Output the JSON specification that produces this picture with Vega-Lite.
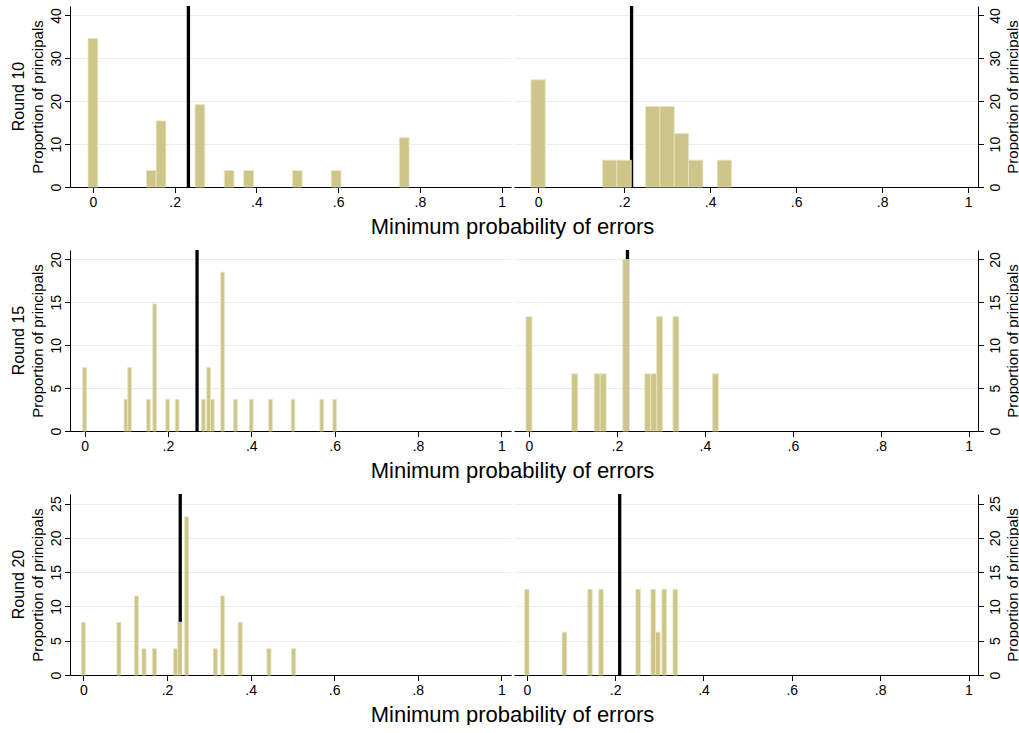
{
  "$schema": "https://vega.github.io/schema/vega-lite/v6.json",
  "padding": {"left": 10, "top": 4, "right": 0, "bottom": 0},
  "datasets": {
    "means": [
      {"round": "Round 10", "side": "L", "mean": 0.2337},
      {"round": "Round 10", "side": "R", "mean": 0.2174},
      {"round": "Round 15", "side": "L", "mean": 0.2698},
      {"round": "Round 15", "side": "R", "mean": 0.224},
      {"round": "Round 20", "side": "L", "mean": 0.2317},
      {"round": "Round 20", "side": "R", "mean": 0.2103}
    ],
    "bars": [
      {"round": "Round 10", "side": "L", "lo": -0.0119, "hi": 0.0119, "pct": 34.6},
      {"round": "Round 10", "side": "L", "lo": 0.131, "hi": 0.1548, "pct": 3.85},
      {"round": "Round 10", "side": "L", "lo": 0.1548, "hi": 0.1786, "pct": 15.4},
      {"round": "Round 10", "side": "L", "lo": 0.25, "hi": 0.2738, "pct": 19.2},
      {"round": "Round 10", "side": "L", "lo": 0.3214, "hi": 0.3452, "pct": 3.85},
      {"round": "Round 10", "side": "L", "lo": 0.369, "hi": 0.3929, "pct": 3.85},
      {"round": "Round 10", "side": "L", "lo": 0.4881, "hi": 0.5119, "pct": 3.85},
      {"round": "Round 10", "side": "L", "lo": 0.5833, "hi": 0.6071, "pct": 3.85},
      {"round": "Round 10", "side": "L", "lo": 0.75, "hi": 0.7738, "pct": 11.5},
      {"round": "Round 10", "side": "R", "lo": -0.0167, "hi": 0.0167, "pct": 25},
      {"round": "Round 10", "side": "R", "lo": 0.15, "hi": 0.1833, "pct": 6.25},
      {"round": "Round 10", "side": "R", "lo": 0.1833, "hi": 0.2167, "pct": 6.25},
      {"round": "Round 10", "side": "R", "lo": 0.25, "hi": 0.2833, "pct": 18.75},
      {"round": "Round 10", "side": "R", "lo": 0.2833, "hi": 0.3167, "pct": 18.75},
      {"round": "Round 10", "side": "R", "lo": 0.3167, "hi": 0.35, "pct": 12.5},
      {"round": "Round 10", "side": "R", "lo": 0.35, "hi": 0.3833, "pct": 6.25},
      {"round": "Round 10", "side": "R", "lo": 0.4167, "hi": 0.45, "pct": 6.25},
      {"round": "Round 15", "side": "L", "lo": -0.0045, "hi": 0.0045, "pct": 7.41},
      {"round": "Round 15", "side": "L", "lo": 0.0945, "hi": 0.1035, "pct": 3.7},
      {"round": "Round 15", "side": "L", "lo": 0.1035, "hi": 0.1125, "pct": 7.41},
      {"round": "Round 15", "side": "L", "lo": 0.1485, "hi": 0.1575, "pct": 3.7},
      {"round": "Round 15", "side": "L", "lo": 0.1635, "hi": 0.1725, "pct": 14.81},
      {"round": "Round 15", "side": "L", "lo": 0.1945, "hi": 0.2035, "pct": 3.7},
      {"round": "Round 15", "side": "L", "lo": 0.2175, "hi": 0.2265, "pct": 3.7},
      {"round": "Round 15", "side": "L", "lo": 0.2805, "hi": 0.2895, "pct": 3.7},
      {"round": "Round 15", "side": "L", "lo": 0.293, "hi": 0.302, "pct": 7.41},
      {"round": "Round 15", "side": "L", "lo": 0.302, "hi": 0.311, "pct": 3.7},
      {"round": "Round 15", "side": "L", "lo": 0.3265, "hi": 0.3355, "pct": 18.52},
      {"round": "Round 15", "side": "L", "lo": 0.3575, "hi": 0.3665, "pct": 3.7},
      {"round": "Round 15", "side": "L", "lo": 0.3955, "hi": 0.4045, "pct": 3.7},
      {"round": "Round 15", "side": "L", "lo": 0.4415, "hi": 0.4505, "pct": 3.7},
      {"round": "Round 15", "side": "L", "lo": 0.4955, "hi": 0.5045, "pct": 3.7},
      {"round": "Round 15", "side": "L", "lo": 0.5645, "hi": 0.5735, "pct": 3.7},
      {"round": "Round 15", "side": "L", "lo": 0.5955, "hi": 0.6045, "pct": 3.7},
      {"round": "Round 15", "side": "R", "lo": -0.0068, "hi": 0.0068, "pct": 13.33},
      {"round": "Round 15", "side": "R", "lo": 0.0972, "hi": 0.1108, "pct": 6.67},
      {"round": "Round 15", "side": "R", "lo": 0.1485, "hi": 0.162, "pct": 6.67},
      {"round": "Round 15", "side": "R", "lo": 0.162, "hi": 0.1755, "pct": 6.67},
      {"round": "Round 15", "side": "R", "lo": 0.2133, "hi": 0.2268, "pct": 20},
      {"round": "Round 15", "side": "R", "lo": 0.2633, "hi": 0.2768, "pct": 6.67},
      {"round": "Round 15", "side": "R", "lo": 0.2768, "hi": 0.2903, "pct": 6.67},
      {"round": "Round 15", "side": "R", "lo": 0.2903, "hi": 0.3038, "pct": 13.33},
      {"round": "Round 15", "side": "R", "lo": 0.3273, "hi": 0.3408, "pct": 13.33},
      {"round": "Round 15", "side": "R", "lo": 0.4173, "hi": 0.4308, "pct": 6.67},
      {"round": "Round 20", "side": "L", "lo": -0.0049, "hi": 0.0049, "pct": 7.69},
      {"round": "Round 20", "side": "L", "lo": 0.0801, "hi": 0.0899, "pct": 7.69},
      {"round": "Round 20", "side": "L", "lo": 0.1221, "hi": 0.1319, "pct": 11.54},
      {"round": "Round 20", "side": "L", "lo": 0.1401, "hi": 0.1499, "pct": 3.85},
      {"round": "Round 20", "side": "L", "lo": 0.1651, "hi": 0.1749, "pct": 3.85},
      {"round": "Round 20", "side": "L", "lo": 0.2156, "hi": 0.2254, "pct": 3.85},
      {"round": "Round 20", "side": "L", "lo": 0.2254, "hi": 0.2352, "pct": 7.69},
      {"round": "Round 20", "side": "L", "lo": 0.2421, "hi": 0.2519, "pct": 23.08},
      {"round": "Round 20", "side": "L", "lo": 0.3106, "hi": 0.3204, "pct": 3.85},
      {"round": "Round 20", "side": "L", "lo": 0.3281, "hi": 0.3379, "pct": 11.54},
      {"round": "Round 20", "side": "L", "lo": 0.3701, "hi": 0.3799, "pct": 7.69},
      {"round": "Round 20", "side": "L", "lo": 0.4391, "hi": 0.4489, "pct": 3.85},
      {"round": "Round 20", "side": "L", "lo": 0.4981, "hi": 0.5079, "pct": 3.85},
      {"round": "Round 20", "side": "R", "lo": -0.0053, "hi": 0.0053, "pct": 12.5},
      {"round": "Round 20", "side": "R", "lo": 0.0798, "hi": 0.0903, "pct": 6.25},
      {"round": "Round 20", "side": "R", "lo": 0.1378, "hi": 0.1483, "pct": 12.5},
      {"round": "Round 20", "side": "R", "lo": 0.1628, "hi": 0.1733, "pct": 12.5},
      {"round": "Round 20", "side": "R", "lo": 0.2468, "hi": 0.2573, "pct": 12.5},
      {"round": "Round 20", "side": "R", "lo": 0.2808, "hi": 0.2913, "pct": 12.5},
      {"round": "Round 20", "side": "R", "lo": 0.2913, "hi": 0.3018, "pct": 6.25},
      {"round": "Round 20", "side": "R", "lo": 0.3058, "hi": 0.3163, "pct": 12.5},
      {"round": "Round 20", "side": "R", "lo": 0.3308, "hi": 0.3413, "pct": 12.5}
    ]
  },
  "config": {
    "font": "Liberation Sans",
    "view": {"stroke": null},
    "axis": {
      "labelFont": "Liberation Sans", "titleFont": "Liberation Sans",
      "labelFontSize": 14, "labelColor": "#000", "titleColor": "#000",
      "titleFontWeight": "normal", "domainColor": "#000", "domainWidth": 1,
      "tickColor": "#000", "tickSize": 5.5, "tickWidth": 1,
      "gridColor": "#E6EFEF", "gridWidth": 1
    }
  },
  "spacing": 11,
  "vconcat": [
    {
      "bounds": "flush", "spacing": 3,
      "hconcat": [
        {
          "width": 441, "height": 181,
          "title": {"text": "Round 10", "orient": "left", "frame": "group", "anchor": "middle", "fontSize": 16, "fontWeight": "normal", "offset": 4, "color": "#000"},
          "layer": [
            {"data": {"name": "means"}, "transform": [{"filter": "datum.round == 'Round 10' && datum.side == 'L'"}],
             "mark": {"type": "rule", "color": "#000", "strokeWidth": 3.3},
             "encoding": {"x": {"field": "mean", "type": "quantitative", "scale": {"domain": [-0.056, 1.023], "nice": false, "zero": false},
               "axis": {"title": "Minimum probability of errors", "titleX": 442, "titleY": 46, "titleBaseline": "alphabetic", "titleAlign": "center", "titleFontSize": 22, "values": [0, 0.2, 0.4, 0.6, 0.8, 1], "labelExpr": "datum.value == 0 ? '0' : datum.value == 1 ? '1' : replace(format(datum.value, '.1f'), '0.', '.')", "grid": false, "labelFlush": false, "labelPadding": 3}}}},
            {"data": {"name": "bars"}, "transform": [{"filter": "datum.round == 'Round 10' && datum.side == 'L'"}],
             "mark": {"type": "rect", "color": "#CEC688", "stroke": "#E8E4C4", "strokeWidth": 0.8},
             "encoding": {
               "x": {"field": "lo", "type": "quantitative", "scale": {"domain": [-0.056, 1.023], "nice": false, "zero": false},
                 "axis": {"title": "Minimum probability of errors", "titleX": 442, "titleY": 46, "titleBaseline": "alphabetic", "titleAlign": "center", "titleFontSize": 22, "values": [0, 0.2, 0.4, 0.6, 0.8, 1], "labelExpr": "datum.value == 0 ? '0' : datum.value == 1 ? '1' : replace(format(datum.value, '.1f'), '0.', '.')", "grid": false, "labelFlush": false, "labelPadding": 3}},
               "x2": {"field": "hi"},
               "y": {"field": "pct", "type": "quantitative", "scale": {"domain": [0, 42.2], "nice": false},
                 "axis": {"title": "Proportion of principals", "orient": "left", "values": [0, 10, 20, 30, 40], "grid": true, "labelAngle": -90, "labelAlign": "center", "labelBaseline": "bottom", "labelPadding": 1, "titleFontSize": 15, "titlePadding": 4}}
             }}
          ]
        },
        {
          "width": 464, "height": 181,
          "layer": [
            {"data": {"name": "means"}, "transform": [{"filter": "datum.round == 'Round 10' && datum.side == 'R'"}],
             "mark": {"type": "rule", "color": "#000", "strokeWidth": 3.3},
             "encoding": {"x": {"field": "mean", "type": "quantitative", "scale": {"domain": [-0.056, 1.023], "nice": false, "zero": false},
               "axis": {"title": null, "values": [0, 0.2, 0.4, 0.6, 0.8, 1], "labelExpr": "datum.value == 0 ? '0' : datum.value == 1 ? '1' : replace(format(datum.value, '.1f'), '0.', '.')", "grid": false, "labelFlush": false, "labelPadding": 3}}}},
            {"data": {"name": "bars"}, "transform": [{"filter": "datum.round == 'Round 10' && datum.side == 'R'"}],
             "mark": {"type": "rect", "color": "#CEC688", "stroke": "#E8E4C4", "strokeWidth": 0.8},
             "encoding": {
               "x": {"field": "lo", "type": "quantitative", "scale": {"domain": [-0.056, 1.023], "nice": false, "zero": false},
                 "axis": {"title": null, "values": [0, 0.2, 0.4, 0.6, 0.8, 1], "labelExpr": "datum.value == 0 ? '0' : datum.value == 1 ? '1' : replace(format(datum.value, '.1f'), '0.', '.')", "grid": false, "labelFlush": false, "labelPadding": 3}},
               "x2": {"field": "hi"},
               "y": {"field": "pct", "type": "quantitative", "scale": {"domain": [0, 42.2], "nice": false},
                 "axis": {"title": "Proportion of principals", "orient": "right", "values": [0, 10, 20, 30, 40], "grid": true, "labelAngle": -90, "labelAlign": "center", "labelBaseline": "top", "labelPadding": 5, "titleFontSize": 15, "titleAngle": 270, "titleBaseline": "top", "titlePadding": 3}}
             }}
          ]
        }
      ]
    },
    {
      "bounds": "flush", "spacing": 3,
      "hconcat": [
        {
          "width": 441, "height": 181,
          "title": {"text": "Round 15", "orient": "left", "frame": "group", "anchor": "middle", "fontSize": 16, "fontWeight": "normal", "offset": 4, "color": "#000"},
          "layer": [
            {"data": {"name": "means"}, "transform": [{"filter": "datum.round == 'Round 15' && datum.side == 'L'"}],
             "mark": {"type": "rule", "color": "#000", "strokeWidth": 3.3},
             "encoding": {"x": {"field": "mean", "type": "quantitative", "scale": {"domain": [-0.035, 1.023], "nice": false, "zero": false},
               "axis": {"title": "Minimum probability of errors", "titleX": 442, "titleY": 46, "titleBaseline": "alphabetic", "titleAlign": "center", "titleFontSize": 22, "values": [0, 0.2, 0.4, 0.6, 0.8, 1], "labelExpr": "datum.value == 0 ? '0' : datum.value == 1 ? '1' : replace(format(datum.value, '.1f'), '0.', '.')", "grid": false, "labelFlush": false, "labelPadding": 3}}}},
            {"data": {"name": "bars"}, "transform": [{"filter": "datum.round == 'Round 15' && datum.side == 'L'"}],
             "mark": {"type": "rect", "color": "#CEC688", "stroke": "#E8E4C4", "strokeWidth": 0.8},
             "encoding": {
               "x": {"field": "lo", "type": "quantitative", "scale": {"domain": [-0.035, 1.023], "nice": false, "zero": false},
                 "axis": {"title": "Minimum probability of errors", "titleX": 442, "titleY": 46, "titleBaseline": "alphabetic", "titleAlign": "center", "titleFontSize": 22, "values": [0, 0.2, 0.4, 0.6, 0.8, 1], "labelExpr": "datum.value == 0 ? '0' : datum.value == 1 ? '1' : replace(format(datum.value, '.1f'), '0.', '.')", "grid": false, "labelFlush": false, "labelPadding": 3}},
               "x2": {"field": "hi"},
               "y": {"field": "pct", "type": "quantitative", "scale": {"domain": [0, 21.1], "nice": false},
                 "axis": {"title": "Proportion of principals", "orient": "left", "values": [0, 5, 10, 15, 20], "grid": true, "labelAngle": -90, "labelAlign": "center", "labelBaseline": "bottom", "labelPadding": 1, "titleFontSize": 15, "titlePadding": 4}}
             }}
          ]
        },
        {
          "width": 464, "height": 181,
          "layer": [
            {"data": {"name": "means"}, "transform": [{"filter": "datum.round == 'Round 15' && datum.side == 'R'"}],
             "mark": {"type": "rule", "color": "#000", "strokeWidth": 3.3},
             "encoding": {"x": {"field": "mean", "type": "quantitative", "scale": {"domain": [-0.034, 1.021], "nice": false, "zero": false},
               "axis": {"title": null, "values": [0, 0.2, 0.4, 0.6, 0.8, 1], "labelExpr": "datum.value == 0 ? '0' : datum.value == 1 ? '1' : replace(format(datum.value, '.1f'), '0.', '.')", "grid": false, "labelFlush": false, "labelPadding": 3}}}},
            {"data": {"name": "bars"}, "transform": [{"filter": "datum.round == 'Round 15' && datum.side == 'R'"}],
             "mark": {"type": "rect", "color": "#CEC688", "stroke": "#E8E4C4", "strokeWidth": 0.8},
             "encoding": {
               "x": {"field": "lo", "type": "quantitative", "scale": {"domain": [-0.034, 1.021], "nice": false, "zero": false},
                 "axis": {"title": null, "values": [0, 0.2, 0.4, 0.6, 0.8, 1], "labelExpr": "datum.value == 0 ? '0' : datum.value == 1 ? '1' : replace(format(datum.value, '.1f'), '0.', '.')", "grid": false, "labelFlush": false, "labelPadding": 3}},
               "x2": {"field": "hi"},
               "y": {"field": "pct", "type": "quantitative", "scale": {"domain": [0, 21.1], "nice": false},
                 "axis": {"title": "Proportion of principals", "orient": "right", "values": [0, 5, 10, 15, 20], "grid": true, "labelAngle": -90, "labelAlign": "center", "labelBaseline": "top", "labelPadding": 5, "titleFontSize": 15, "titleAngle": 270, "titleBaseline": "top", "titlePadding": 3}}
             }}
          ]
        }
      ]
    },
    {
      "bounds": "flush", "spacing": 3,
      "hconcat": [
        {
          "width": 441, "height": 181,
          "title": {"text": "Round 20", "orient": "left", "frame": "group", "anchor": "middle", "fontSize": 16, "fontWeight": "normal", "offset": 4, "color": "#000"},
          "layer": [
            {"data": {"name": "means"}, "transform": [{"filter": "datum.round == 'Round 20' && datum.side == 'L'"}],
             "mark": {"type": "rule", "color": "#000", "strokeWidth": 3.3},
             "encoding": {"x": {"field": "mean", "type": "quantitative", "scale": {"domain": [-0.032, 1.023], "nice": false, "zero": false},
               "axis": {"title": "Minimum probability of errors", "titleX": 442, "titleY": 46, "titleBaseline": "alphabetic", "titleAlign": "center", "titleFontSize": 22, "values": [0, 0.2, 0.4, 0.6, 0.8, 1], "labelExpr": "datum.value == 0 ? '0' : datum.value == 1 ? '1' : replace(format(datum.value, '.1f'), '0.', '.')", "grid": false, "labelFlush": false, "labelPadding": 3}}}},
            {"data": {"name": "bars"}, "transform": [{"filter": "datum.round == 'Round 20' && datum.side == 'L'"}],
             "mark": {"type": "rect", "color": "#CEC688", "stroke": "#E8E4C4", "strokeWidth": 0.8},
             "encoding": {
               "x": {"field": "lo", "type": "quantitative", "scale": {"domain": [-0.032, 1.023], "nice": false, "zero": false},
                 "axis": {"title": "Minimum probability of errors", "titleX": 442, "titleY": 46, "titleBaseline": "alphabetic", "titleAlign": "center", "titleFontSize": 22, "values": [0, 0.2, 0.4, 0.6, 0.8, 1], "labelExpr": "datum.value == 0 ? '0' : datum.value == 1 ? '1' : replace(format(datum.value, '.1f'), '0.', '.')", "grid": false, "labelFlush": false, "labelPadding": 3}},
               "x2": {"field": "hi"},
               "y": {"field": "pct", "type": "quantitative", "scale": {"domain": [0, 26.4], "nice": false},
                 "axis": {"title": "Proportion of principals", "orient": "left", "values": [0, 5, 10, 15, 20, 25], "grid": true, "labelAngle": -90, "labelAlign": "center", "labelBaseline": "bottom", "labelPadding": 1, "titleFontSize": 15, "titlePadding": 4}}
             }}
          ]
        },
        {
          "width": 464, "height": 181,
          "layer": [
            {"data": {"name": "means"}, "transform": [{"filter": "datum.round == 'Round 20' && datum.side == 'R'"}],
             "mark": {"type": "rule", "color": "#000", "strokeWidth": 3.3},
             "encoding": {"x": {"field": "mean", "type": "quantitative", "scale": {"domain": [-0.029, 1.0215], "nice": false, "zero": false},
               "axis": {"title": null, "values": [0, 0.2, 0.4, 0.6, 0.8, 1], "labelExpr": "datum.value == 0 ? '0' : datum.value == 1 ? '1' : replace(format(datum.value, '.1f'), '0.', '.')", "grid": false, "labelFlush": false, "labelPadding": 3}}}},
            {"data": {"name": "bars"}, "transform": [{"filter": "datum.round == 'Round 20' && datum.side == 'R'"}],
             "mark": {"type": "rect", "color": "#CEC688", "stroke": "#E8E4C4", "strokeWidth": 0.8},
             "encoding": {
               "x": {"field": "lo", "type": "quantitative", "scale": {"domain": [-0.029, 1.0215], "nice": false, "zero": false},
                 "axis": {"title": null, "values": [0, 0.2, 0.4, 0.6, 0.8, 1], "labelExpr": "datum.value == 0 ? '0' : datum.value == 1 ? '1' : replace(format(datum.value, '.1f'), '0.', '.')", "grid": false, "labelFlush": false, "labelPadding": 3}},
               "x2": {"field": "hi"},
               "y": {"field": "pct", "type": "quantitative", "scale": {"domain": [0, 26.4], "nice": false},
                 "axis": {"title": "Proportion of principals", "orient": "right", "values": [0, 5, 10, 15, 20, 25], "grid": true, "labelAngle": -90, "labelAlign": "center", "labelBaseline": "top", "labelPadding": 5, "titleFontSize": 15, "titleAngle": 270, "titleBaseline": "top", "titlePadding": 3}}
             }}
          ]
        }
      ]
    }
  ]
}
